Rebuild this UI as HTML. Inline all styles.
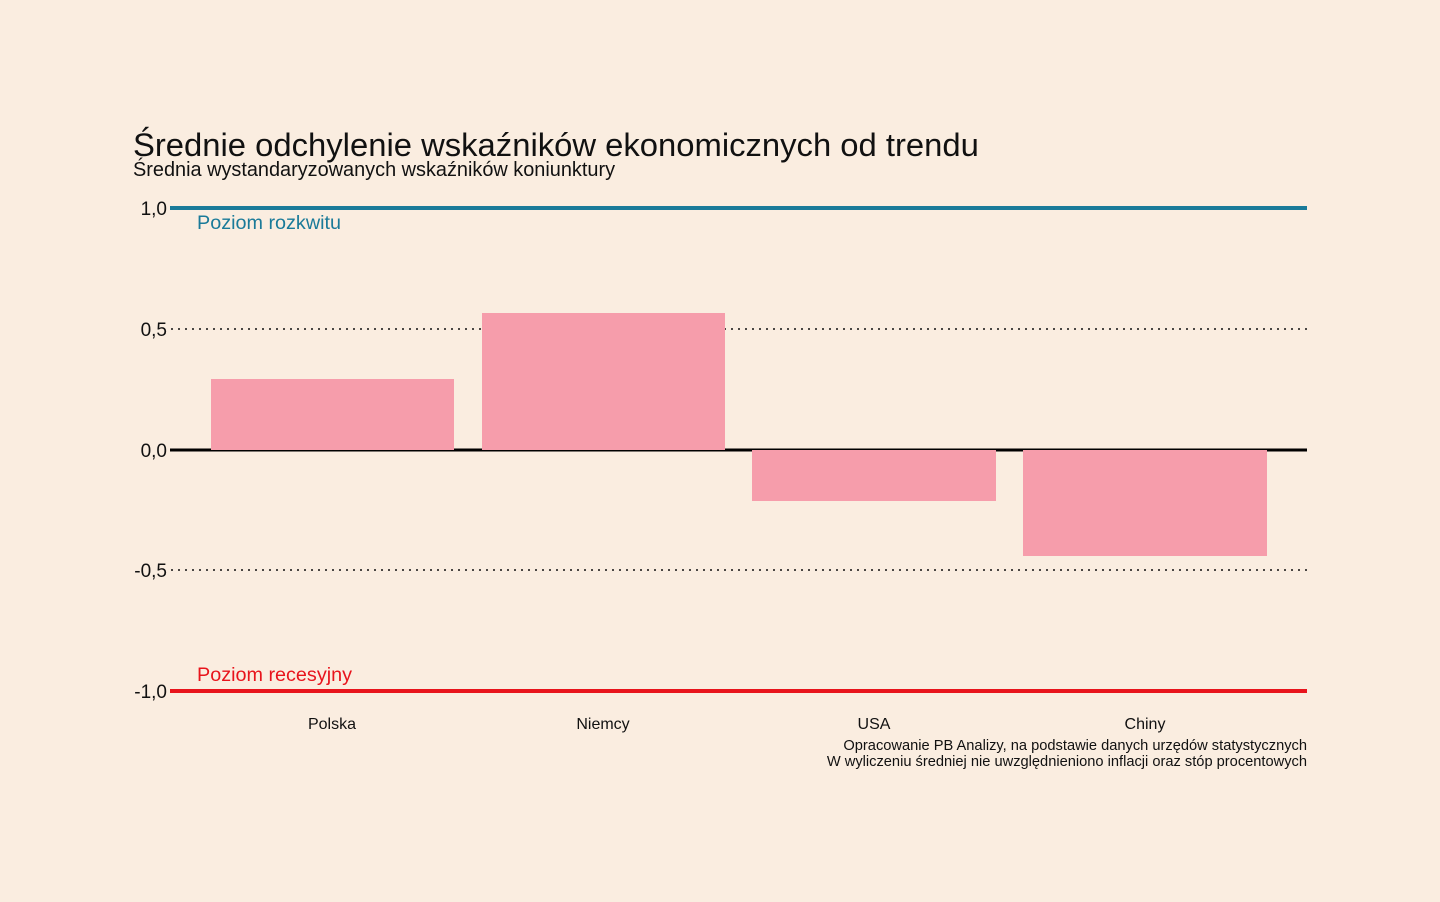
<!DOCTYPE html>
<html><head><meta charset="utf-8"><style>
html,body{margin:0;padding:0;background:#faede0;}
svg{display:block;font-family:"Liberation Sans",sans-serif;}
</style></head><body>
<svg width="1440" height="902" viewBox="0 0 1440 902">
<rect width="1440" height="902" fill="#faede0"/>
<text x="133" y="156" font-size="32.8" fill="#111">Średnie odchylenie wskaźników ekonomicznych od trendu</text>
<text x="133" y="176" font-size="19.9" fill="#111">Średnia wystandaryzowanych wskaźników koniunktury</text>
<g stroke="#111" stroke-width="2" stroke-dasharray="0 7" stroke-linecap="round">
<line x1="172" y1="329" x2="1307" y2="329"/>
<line x1="172" y1="570" x2="1307" y2="570"/>
</g>
<line x1="170" y1="450" x2="1307" y2="450" stroke="#000" stroke-width="3"/>
<line x1="170" y1="208" x2="1307" y2="208" stroke="#1a7a99" stroke-width="4"/>
<line x1="170" y1="691" x2="1307" y2="691" stroke="#e8141c" stroke-width="4"/>
<g fill="#f69dab">
<rect x="211" y="379" width="243" height="71"/>
<rect x="482" y="313" width="243" height="137"/>
<rect x="752" y="450" width="244" height="51"/>
<rect x="1023" y="450" width="244" height="106"/>
</g>
<g stroke="#000" stroke-width="1"><line x1="211" y1="450.5" x2="454" y2="450.5"/><line x1="482" y1="450.5" x2="725" y2="450.5"/></g>
<g font-size="19" fill="#111" text-anchor="end">
<text x="167" y="215">1,0</text>
<text x="167" y="336">0,5</text>
<text x="167" y="457">0,0</text>
<text x="167" y="577">-0,5</text>
<text x="167" y="698">-1,0</text>
</g>
<text x="197" y="229" font-size="19.8" fill="#1a7a99">Poziom rozkwitu</text>
<text x="197" y="681" font-size="19.8" fill="#e8141c">Poziom recesyjny</text>
<g font-size="16" fill="#111" text-anchor="middle">
<text x="332" y="729">Polska</text>
<text x="603" y="729">Niemcy</text>
<text x="874" y="729">USA</text>
<text x="1145" y="729">Chiny</text>
</g>
<g font-size="14.65" fill="#111" text-anchor="end">
<text x="1307" y="750">Opracowanie PB Analizy, na podstawie danych urzędów statystycznych</text>
<text x="1307" y="766">W wyliczeniu średniej nie uwzględnieniono inflacji oraz stóp procentowych</text>
</g>
</svg>
</body></html>
